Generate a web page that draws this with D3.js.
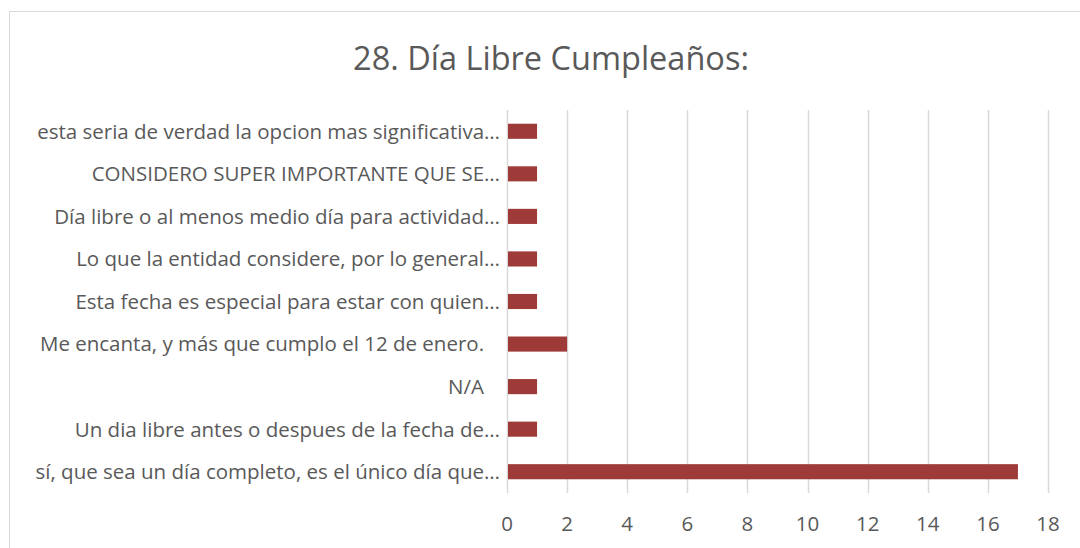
<!DOCTYPE html>
<html>
<head>
<meta charset="utf-8">
<script src="https://cdn.jsdelivr.net/npm/d3@7"></script>
<style>
  body { margin: 0; background: #fff; }
  text { font-family: "Open Sans", "Noto Sans", sans-serif; fill: #595959; }
</style>
</head>
<body>
<div id="chart"></div>
<script>
// data, top to bottom as shown
const categories = [
	'esta seria de verdad la opcion mas significativa…',
	'CONSIDERO SUPER IMPORTANTE QUE SE…',
	'Día libre o al menos medio día para actividad…',
	'Lo que la entidad considere, por lo general…',
	'Esta fecha es especial para estar con quien…',
	'Me encanta, y más que cumplo el 12 de enero.   ',
	'N/A   ',
	'Un dia libre antes o despues de la fecha de…',
	'sí, que sea un día completo, es el único día que…'
]
const values = [1, 1, 1, 1, 1, 2, 1, 1, 17]
const ticks = [0, 2, 4, 6, 8, 10, 12, 14, 16, 18]
const title = '28. Día Libre Cumpleaños:'

const width = 1080
const height = 548
const margin = {top: 110, left: 507, right: 32, bottom: 55}

const $svg = d3.select('#chart')
	.append('svg')
	.attr('width', width)
	.attr('height', height)

// chart frame (runs off the right and bottom edges)
$svg.append('rect')
	.attr('x', 9.5)
	.attr('y', 11.5)
	.attr('width', width + 20)
	.attr('height', height + 20)
	.attr('fill', 'none')
	.attr('stroke', '#d9d9d9')

$svg.append('text')
	.attr('x', 551)
	.attr('y', 70)
	.attr('text-anchor', 'middle')
	.style('font-size', '32.5px')
	.text(title)

const x = d3.scaleLinear()
	.domain([0, 18])
	.range([margin.left, width - margin.right])

const y = d3.scaleBand()
	.domain(categories)
	.range([margin.top, height - margin.bottom])
	.paddingInner(0.645)
	.paddingOuter(0.3225)

// gridlines
$svg.append('g')
	.selectAll('line')
	.data(ticks)
	.join('line')
	.attr('x1', d => Math.round(x(d)) + 0.5)
	.attr('x2', d => Math.round(x(d)) + 0.5)
	.attr('y1', margin.top)
	.attr('y2', height - margin.bottom)
	.attr('stroke', '#d9d9d9')
	.attr('stroke-width', 1.5)

// bars
$svg.append('g')
	.selectAll('rect')
	.data(values)
	.join('rect')
	.attr('x', x(0) + 1)
	.attr('y', (d, i) => y(categories[i]))
	.attr('width', d => x(d) - x(0) - 1)
	.attr('height', y.bandwidth())
	.attr('fill', '#9e3a38')

// category labels
$svg.append('g')
	.selectAll('text')
	.data(categories)
	.join('text')
	.attr('x', margin.left - 7)
	.attr('y', d => y(d) + y.bandwidth() / 2)
	.attr('dy', '0.36em')
	.attr('text-anchor', 'end')
	.style('font-size', '20.5px')
	.style('white-space', 'pre')
	.text(d => d)

// value axis labels
$svg.append('g')
	.selectAll('text')
	.data(ticks)
	.join('text')
	.attr('x', d => x(d))
	.attr('y', 531)
	.attr('text-anchor', 'middle')
	.style('font-size', '20.5px')
	.text(d => d)
</script>
</body>
</html>
